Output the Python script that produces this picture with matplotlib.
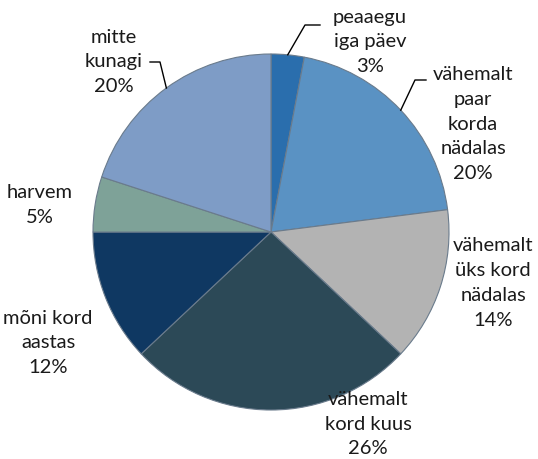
import matplotlib
matplotlib.use("Agg")
import matplotlib.pyplot as plt
import numpy as np

categories = ["peaaegu\niga päev", "vähemalt\npaar\nkorda\nnädalas", "vähemalt\nüks kord\nnädalas",
              "vähemalt\nkord kuus", "mõni kord\naastas", "harvem", "mitte\nkunagi"]
values = [3, 20, 14, 26, 12, 5, 20]
colors = ["#2A6EAD", "#5A92C3", "#B3B3B3", "#2C4957", "#0F3862", "#7EA298", "#7E9CC6"]

W, H = 538, 459
fig = plt.figure(figsize=(W / 100, H / 100), dpi=100)
ax = fig.add_axes([0, 0, 1, 1])

cx, cy, R = 271, H - 232, 178
wedges, _ = ax.pie(values, colors=colors, startangle=90, counterclock=False,
                   center=(cx, cy), radius=R, frame=True,
                   wedgeprops=dict(edgecolor="#6a7b8c", linewidth=0.8))
ax.set_xlim(0, W)
ax.set_ylim(0, H)
ax.set_aspect("equal")
ax.axis("off")

# label positions (text centers, in pixel coords from top)
label_pos = [(370, 42), (473, 124), (493, 283), (368, 424), (48, 343), (40, 205), (114, 62)]
font = dict(family=["Lato", "DejaVu Sans"], fontsize=14.5, color="#1a1a1a",
            ha="center", va="center", linespacing=1.55)
for cat, v, (tx, ty) in zip(categories, values, label_pos):
    ax.text(tx, H - ty, f"{cat}\n{v}%", **font)

# leader lines: from wedge mid edge to label
cum = np.cumsum([0] + values)
def mid_edge(i):
    ang = np.deg2rad(90 - 3.6 * (cum[i] + values[i] / 2))
    return cx + R * np.cos(ang), cy + R * np.sin(ang)

leaders = {0: [(305, 25), (320, 25)], 1: [(415, 80), (426, 80)], 6: [(160, 62), (150, 62)]}
for i, pts in leaders.items():
    x0, y0 = mid_edge(i)
    xs = [x0] + [p[0] for p in pts]
    ys = [y0] + [H - p[1] for p in pts]
    ax.plot(xs, ys, color="black", linewidth=1.0)

fig.savefig("out.png", dpi=100)
